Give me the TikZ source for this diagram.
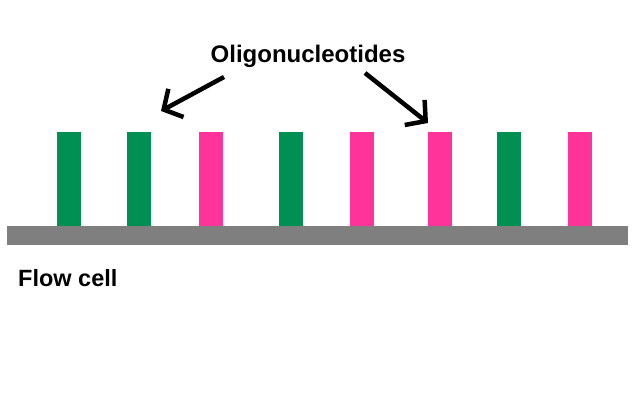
\documentclass[tikz,border=0pt]{standalone}
\usepackage{fontspec}
\setmainfont{Liberation Sans}
\usetikzlibrary{arrows.meta, positioning}
\definecolor{oligogreen}{HTML}{009054}
\definecolor{oligopink}{HTML}{FF3399}
\definecolor{cellgray}{HTML}{7F7F7F}

\begin{document}
\begin{tikzpicture}[x=1pt,y=-1pt,
  oligo/.style={inner sep=0pt, minimum width=24pt, minimum height=94pt, anchor=north west},
  bigtext/.style={inner sep=0pt, font=\fontsize{24}{28}\selectfont\bfseries},
  pointer/.style={line width=4.5pt, -{Straight Barb[length=14pt,width=32pt]}}]
\useasboundingbox (0,0) rectangle (632,415);
% flow cell and the strands on it
\node[fill=cellgray, inner sep=0pt, minimum width=621pt, minimum height=19pt, anchor=north west] (cell) at (7,226) {};
\foreach \x/\c [count=\i] in {57/oligogreen,127/oligogreen,199/oligopink,279/oligogreen,350/oligopink,428/oligopink,497/oligogreen,568/oligopink}
  \node[oligo, fill=\c] (bar\i) at (\x,132) {};
% labels
\node[bigtext, anchor=base] (oligos) at (308,62) {Oligonucleotides};
\node[bigtext, font=\fontsize{23.5}{28}\selectfont\bfseries, anchor=base west] (flowcell) at (18,286) {Flow cell};
\coordinate (lefttip) at (161,111);
\coordinate (righttip) at (428,123);
\draw[pointer] ([xshift=-84pt,yshift=-15pt]oligos.base) -- (lefttip);
\draw[pointer] ([xshift=57pt,yshift=-11pt]oligos.base) -- (righttip);
\end{tikzpicture}
\end{document}
